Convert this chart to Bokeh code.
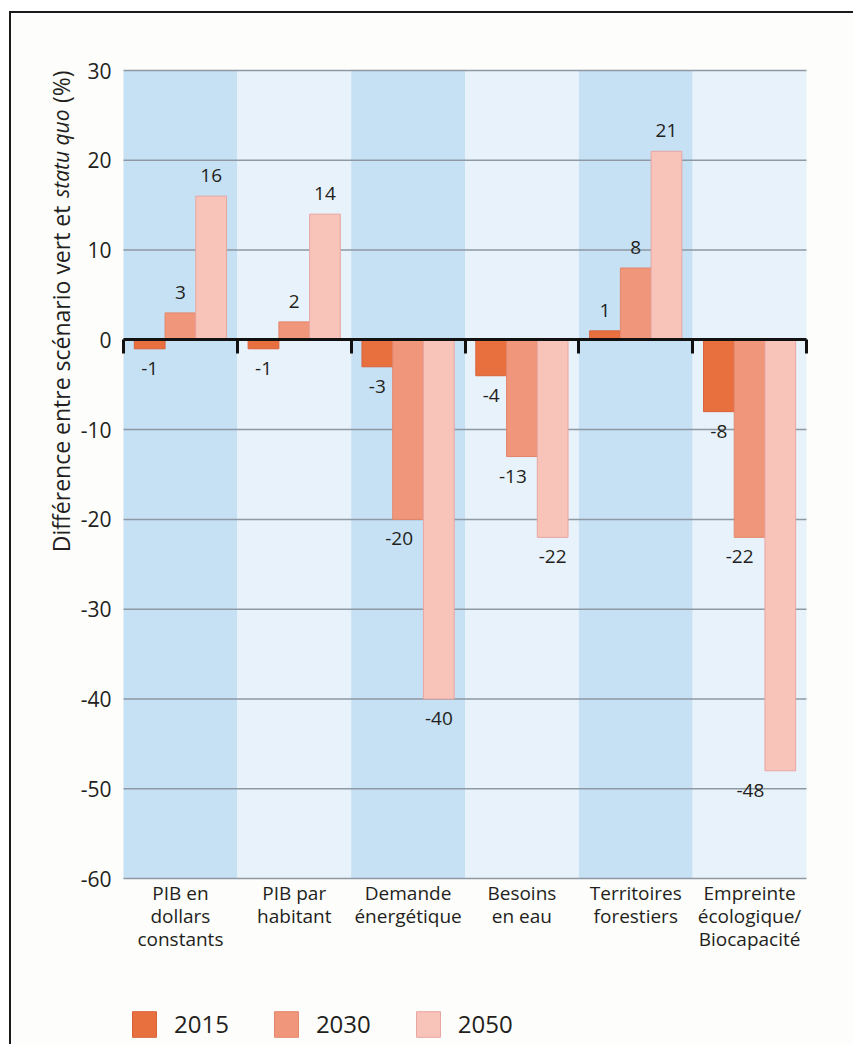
from bokeh.plotting import figure
from bokeh.models import (Range1d, LinearAxis, FixedTicker, ColumnDataSource,
                          Label, Legend, LegendItem)
from bokeh.transform import dodge
from bokeh.core.properties import value
from bokeh.embed import file_html
from bokeh.resources import INLINE

# ---- data ----
categories = ["PIB en\ndollars\nconstants", "PIB par\nhabitant", "Demande\nénergétique",
              "Besoins\nen eau", "Territoires\nforestiers", "Empreinte\nécologique/\nBiocapacité"]
years = ["2015", "2030", "2050"]
v2015 = [-1, -1, -3, -4, 1, -8]
v2030 = [3, 2, -20, -13, 8, -22]
v2050 = [16, 14, -40, -22, 21, -48]
y_ticks = [30, 20, 10, 0, -10, -20, -30, -40, -50, -60]
y_min, y_max = -60, 30

# ---- style / layout ----
FONT = "Open Sans"
TXT = "#231f20"
bar_fill = ["#e8703f", "#f0967a", "#f8c4ba"]
bar_line = ["#d8613a", "#e3876d", "#e9a6a2"]
stripe_colors = ["#c6e0f4", "#e8f2fa"]
grid_color = "#8e99a3"
offsets = [-0.27, 0.0, 0.27]
bar_w = 0.27
nudge = {"2015": [0, 0, 0, 0, 0, 0], "2030": [0, 0, -9, -9, 0, -10], "2050": [0, 0, 0, 0, 0, -30]}

W, H = 844, 1033                      # canvas size
PL, PR, PT, PB = 112, 795, 57, 865    # plot-area box inside the canvas (px)

n = len(categories)
xc = [i + 0.5 for i in range(n)]
bounds = list(range(n + 1))

ux = (PR - PL) / n
uy = (PB - PT) / (y_max - y_min)
x_range = Range1d(-PL / ux, n + (W - PR) / ux)
y_range = Range1d(y_min - (H - PB) / uy, y_max + PT / uy)

p = figure(width=W, height=H, x_range=x_range, y_range=y_range,
           x_axis_location=None, y_axis_location=None,
           output_backend="svg", toolbar_location=None,
           min_border_left=0, min_border_right=0, min_border_top=0, min_border_bottom=0,
           background_fill_color="#fdfdfb", border_fill_color="#fdfdfb", outline_line_color=None)
p.styles = {"margin-left": "9px", "margin-top": "11px",
            "border-left": "2px solid #1a1a1a", "border-top": "2px solid #1a1a1a"}
p.grid.visible = False

# background stripes
stripe_src = ColumnDataSource(dict(x=xc, col=[stripe_colors[i % 2] for i in range(n)]))
p.vbar(x="x", width=1.0, bottom=y_min, top=y_max, source=stripe_src,
       fill_color="col", line_color=None, level="image")

# horizontal grid lines over the plot area
grid_src = ColumnDataSource(dict(y=y_ticks))
p.segment(x0=0, x1=n, y0="y", y1="y", source=grid_src,
          line_color=grid_color, line_width=1.5, level="underlay")

# bars + value labels
series = [v2015, v2030, v2050]
renderers = []
for i, (yr, vals) in enumerate(zip(years, series)):
    src = ColumnDataSource(dict(x=xc, val=vals))
    r = p.vbar(x=dodge("x", offsets[i]), top="val", bottom=0, width=bar_w,
               source=src, fill_color=bar_fill[i], line_color=bar_line[i], line_width=1)
    renderers.append(r)

    pos = [(c, v, d) for c, v, d in zip(xc, vals, nudge[yr]) if v >= 0]
    neg = [(c, v, d) for c, v, d in zip(xc, vals, nudge[yr]) if v < 0]
    if pos:
        ps = ColumnDataSource(dict(x=[a[0] for a in pos], val=[a[1] for a in pos],
                                   txt=[str(a[1]) for a in pos], dx=[a[2] for a in pos]))
        p.text(x=dodge("x", offsets[i]), y="val", text="txt", source=ps,
               x_offset="dx", y_offset=-14, text_align="center", text_baseline="bottom",
               text_font=value(FONT), text_font_size="19px", text_color=TXT)
    if neg:
        ns = ColumnDataSource(dict(x=[a[0] for a in neg], val=[a[1] for a in neg],
                                   txt=[str(a[1]) for a in neg], dx=[a[2] for a in neg]))
        p.text(x=dodge("x", offsets[i]), y="val", text="txt", source=ns,
               x_offset="dx", y_offset=13, text_align="center", text_baseline="top",
               text_font=value(FONT), text_font_size="19px", text_color=TXT)

# y axis (labels only)
yax = LinearAxis(fixed_location=0, ticker=FixedTicker(ticks=y_ticks, minor_ticks=[]),
                 major_label_overrides={t: str(t) for t in y_ticks},
                 axis_line_color=None, major_tick_line_color=None, minor_tick_line_color=None,
                 major_label_standoff=6, major_label_text_font=FONT,
                 major_label_text_font_size="21px", major_label_text_color=TXT)
p.add_layout(yax, "left")

# category axis (labels only)
xax = LinearAxis(fixed_location=y_min, ticker=FixedTicker(ticks=xc, minor_ticks=[]),
                 major_label_overrides={c: lab for c, lab in zip(xc, categories)},
                 axis_line_color=None, major_tick_line_color=None, minor_tick_line_color=None,
                 major_label_standoff=-5, major_label_text_font=FONT,
                 major_label_text_font_size="19px", major_label_text_color=TXT,
                 major_label_text_line_height=0.9, major_label_orientation="horizontal")
p.add_layout(xax, "below")

# zero line with group-boundary ticks
zero_axis = LinearAxis(fixed_location=0, bounds=(0, n),
                       ticker=FixedTicker(ticks=bounds, minor_ticks=[]),
                       axis_line_color="#111111", axis_line_width=3,
                       major_tick_line_color="#111111", major_tick_line_width=3,
                       major_tick_out=14, major_tick_in=0, minor_tick_line_color=None,
                       major_label_overrides={b: "" for b in bounds},
                       major_label_text_font_size="1px")
p.add_layout(zero_axis, "below")

# y axis title (with italic part)
lx = -0.553
common = dict(x=lx, angle=90, angle_units="deg", text_align="right", text_baseline="middle",
              text_color=TXT, text_font=FONT)
p.add_layout(Label(y=30.0, text="(%)", text_font_size="23px", **common))
p.add_layout(Label(y=25.66, text="statu quo", text_font_style="italic",
                   text_font_size="21px", **common))
p.add_layout(Label(y=14.96, text="Différence entre scénario vert et",
                   text_font_size="23px", **common))

# legend
legend = Legend(items=[LegendItem(label=yr, renderers=[r]) for yr, r in zip(years, renderers)],
                orientation="horizontal", location=(118, 6),
                glyph_width=30, glyph_height=32, label_standoff=15, spacing=42,
                padding=0, margin=0, border_line_color=None, background_fill_alpha=0,
                label_text_font=FONT, label_text_font_size="24px", label_text_color=TXT)
p.add_layout(legend)

open("out.html", "w").write(file_html(p, INLINE))
